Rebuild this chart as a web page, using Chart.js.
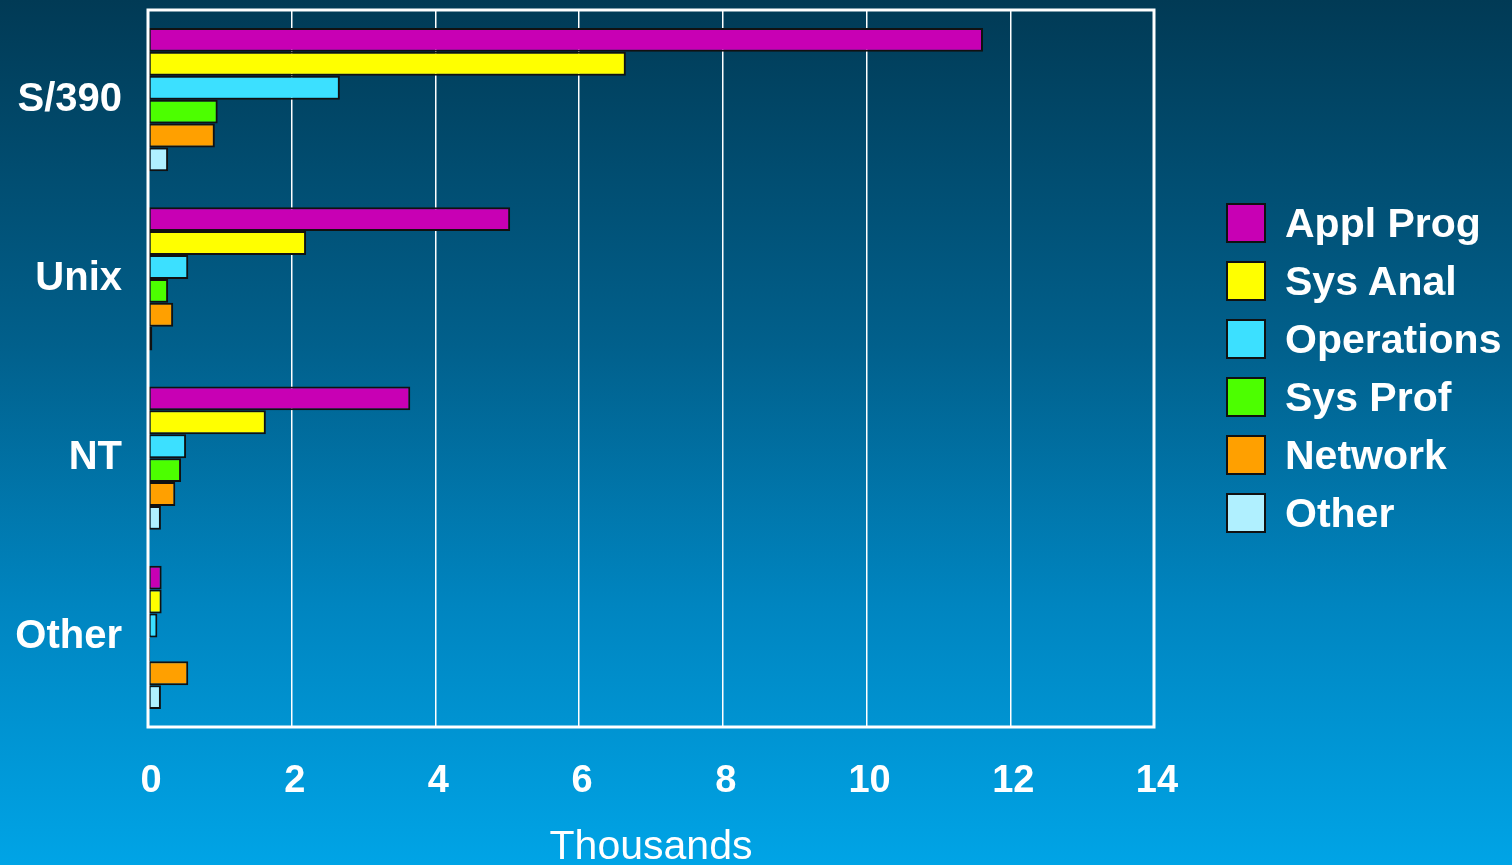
<!DOCTYPE html>
<html>
<head>
<meta charset="utf-8">
<script src="https://cdn.jsdelivr.net/npm/chart.js@4"></script>
<style>
  html, body { margin: 0; padding: 0; }
  body {
    width: 1512px; height: 865px; overflow: hidden; position: relative;
    background: linear-gradient(to bottom, #013a55 0%, #01608c 40%, #0085c0 70%, #00a4e6 100%);
    font-family: "Liberation Sans", Arial, sans-serif;
  }
  #wrap { position: absolute; left: 0; top: 0; width: 1512px; height: 865px; }
  #legend { position: absolute; left: 1226px; top: 194px; color: #fff; }
  .item { display: flex; align-items: center; height: 58px; }
  .box { width: 36px; height: 36px; border: 2px solid #111; margin-right: 19px; }
  .lbl { font-weight: bold; font-size: 41px; }
</style>
</head>
<body>
<div id="wrap"><canvas id="chart" width="1512" height="865"></canvas></div>
<div id="legend"></div>
<script>
  // platforms
  const categories = ["S/390", "Unix", "NT", "Other"];
  const seriesNames = ["Appl Prog", "Sys Anal", "Operations", "Sys Prof", "Network", "Other"];
  // thousands of people
  const applProg = [11.62, 5.04, 3.65, 0.19];
  const sysAnal = [6.65, 2.2, 1.64, 0.19];
  const operations = [2.67, 0.56, 0.53, 0.13];
  const sysProf = [0.97, 0.28, 0.46, 0.03];
  const network = [0.93, 0.35, 0.38, 0.56];
  const other = [0.28, 0.06, 0.18, 0.18];
  const xTicks = [0, 2, 4, 6, 8, 10, 12, 14];

  const colors = ["#c800b4", "#ffff00", "#3ce0ff", "#4cff00", "#ffa000", "#b0f0ff"];
  const values = [applProg, sysAnal, operations, sysProf, network, other];

  const frame = {
    id: "frame",
    afterDraw(chart) {
      const a = chart.chartArea, c = chart.ctx;
      c.save();
      c.strokeStyle = "#ffffff";
      c.lineWidth = 3;
      c.strokeRect(a.left, a.top, a.right - a.left, a.bottom - a.top);
      c.restore();
    }
  };

  let chart = new Chart(document.getElementById("chart").getContext("2d"), {
    type: "bar",
    data: {
      labels: categories,
      datasets: seriesNames.map((name, i) => ({
        label: name,
        data: values[i],
        backgroundColor: colors[i],
        borderColor: "#111111",
        borderWidth: 2,
        borderSkipped: false,
        categoryPercentage: 0.8,
        barPercentage: 1.0
      }))
    },
    options: {
      indexAxis: "y",
      responsive: false,
      animation: false,
      layout: { padding: { top: 10, right: 358, left: 0, bottom: 0 } },
      plugins: { legend: { display: false }, tooltip: { enabled: false } },
      scales: {
        x: {
          min: 0, max: 14,
          afterBuildTicks: (s) => { s.ticks = xTicks.map(v => ({ value: v })); },
          afterFit: (s) => { s.height = 138; s.paddingLeft = 0; s.paddingRight = 0; },
          grid: { color: "#ffffff", lineWidth: 1.5, drawTicks: false },
          border: { display: false },
          ticks: {
            color: "#ffffff", padding: 32, labelOffset: 3,
            font: { family: "Liberation Sans", size: 38, weight: "bold" }
          },
          title: {
            display: true, text: "Thousands", color: "#ffffff",
            padding: { top: 20, bottom: -7 },
            font: { family: "Liberation Sans", size: 41, weight: "normal" }
          }
        },
        y: {
          afterFit: (s) => { s.width = 148; s.paddingTop = 0; s.paddingBottom = 0; },
          grid: { display: false },
          border: { display: false },
          ticks: {
            color: "#ffffff", padding: 18,
            font: { family: "Liberation Sans", size: 40, weight: "bold" }
          }
        }
      }
    },
    plugins: [frame]
  });

  const legend = document.getElementById("legend");
  chart.data.datasets.forEach((ds) => {
    const row = document.createElement("div");
    row.className = "item";
    row.innerHTML = '<div class="box" style="background:' + ds.backgroundColor + '"></div><span class="lbl">' + ds.label + "</span>";
    legend.appendChild(row);
  });
</script>
</body>
</html>
